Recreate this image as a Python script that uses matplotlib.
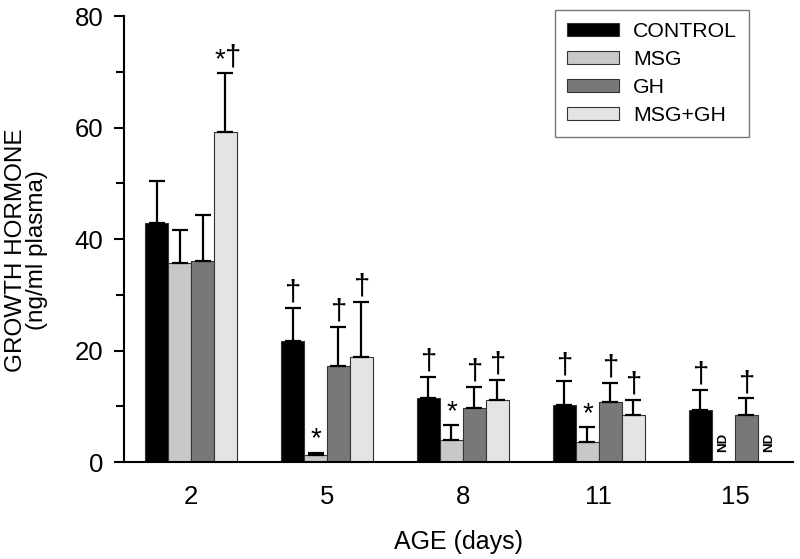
import numpy as np
import matplotlib
matplotlib.use('Agg')
import matplotlib.pyplot as plt
from matplotlib.patches import Patch

plt.rcParams['font.family'] = ['Liberation Sans', 'DejaVu Sans']

# datos
edades = ['2', '5', '8', '11', '15']
series = ['CONTROL', 'MSG', 'GH', 'MSG+GH']
control = [42.9, 21.8, 11.5, 10.3, 9.3]
control_err = [7.5, 5.8, 3.8, 4.3, 3.7]
msg = [35.8, 1.2, 4.0, 3.6, np.nan]
msg_err = [5.9, 0.5, 2.6, 2.7, np.nan]
gh = [36.0, 17.3, 9.7, 10.7, 8.4]
gh_err = [8.4, 6.9, 3.7, 3.5, 3.0]
msg_gh = [59.2, 18.9, 11.1, 8.4, np.nan]
msg_gh_err = [10.6, 9.9, 3.7, 2.7, np.nan]

# marcas de significancia
control_marca = ['', '†', '†', '†', '†']
msg_marca = ['', '*', '*', '*', 'ND']
gh_marca = ['', '†', '†', '†', '†']
msg_gh_marca = ['*†', '†', '†', '†', 'ND']

colores = ['#000000', '#c8c8c8', '#787878', '#e4e4e4']

valores = [control, msg, gh, msg_gh]
errores = [control_err, msg_err, gh_err, msg_gh_err]
marcas = [control_marca, msg_marca, gh_marca, msg_gh_marca]

fig = plt.figure(figsize=(8, 5.59), dpi=100)
ax = fig.add_axes([0.155, 0.1735, 0.836, 0.7975])

x = np.arange(len(edades))
w = 0.169
for i in range(4):
    pos = x + (i - 1.5) * w
    v = np.array(valores[i], dtype=float)
    e = np.array(errores[i], dtype=float)
    ax.bar(pos, np.nan_to_num(v), w, color=colores[i], edgecolor='#333333', linewidth=0.8, zorder=2)
    ok = ~np.isnan(v)
    ax.errorbar(pos[ok], v[ok], yerr=[np.zeros(ok.sum()), e[ok]], fmt='none',
                ecolor='black', elinewidth=1.6, capsize=5.8, capthick=1.6, zorder=3)
    for j in range(len(edades)):
        m = marcas[i][j]
        if m == '':
            continue
        if m == 'ND':
            ax.text(pos[j], 3.5, 'ND', rotation=90, ha='center', va='center',
                    fontsize=9.5, fontweight='bold')
            continue
        tope = v[j] + e[j]
        if m == '*†':
            ax.annotate('*', (pos[j], tope), xytext=(-4, 0), textcoords='offset points',
                        ha='center', va='bottom', fontsize=20)
            ax.annotate('†', (pos[j], tope), xytext=(5, 1), textcoords='offset points',
                        ha='center', va='bottom', fontsize=21)
        elif m == '*':
            ax.annotate(m, (pos[j], tope), xytext=(0, 0), textcoords='offset points',
                        ha='center', va='bottom', fontsize=20)
        else:
            ax.annotate(m, (pos[j], tope), xytext=(0, 1), textcoords='offset points',
                        ha='center', va='bottom', fontsize=21)

ax.set_xlim(-0.493, 4.426)
ax.set_ylim(0, 80)
ax.set_xticks(x)
ax.set_xticklabels(edades)
ax.set_yticks([0, 20, 40, 60, 80])
ax.set_yticks([10, 30, 50, 70], minor=True)
ax.tick_params(axis='x', length=0, pad=16.5, labelsize=18.5)
ax.tick_params(axis='y', which='major', length=7, width=1.5, labelsize=18.5, pad=8)
ax.tick_params(axis='y', which='minor', length=6, width=1.5)
ax.spines['top'].set_visible(False)
ax.spines['right'].set_visible(False)
ax.spines['left'].set_linewidth(1.5)
ax.spines['bottom'].set_linewidth(1.5)

ax.set_xlabel('AGE (days)', fontsize=18, labelpad=15.5)
ax.set_ylabel('GROWTH HORMONE\n(ng/ml plasma)', fontsize=17.5, linespacing=0.95)
ax.yaxis.set_label_coords(-0.113, 0.475)

handles = [Patch(facecolor=colores[i], edgecolor='#333333', linewidth=0.8) for i in range(4)]
leg = ax.legend(handles, series, loc='upper right', bbox_to_anchor=(0.934, 1.013),
                borderaxespad=0, fancybox=False, edgecolor='#555555', fontsize=15.3,
                handlelength=2.45, handleheight=0.6, handletextpad=0.66,
                labelspacing=0.42, borderpad=0.55)
leg.get_frame().set_linewidth(1.0)

fig.savefig('out.png', dpi=100)
